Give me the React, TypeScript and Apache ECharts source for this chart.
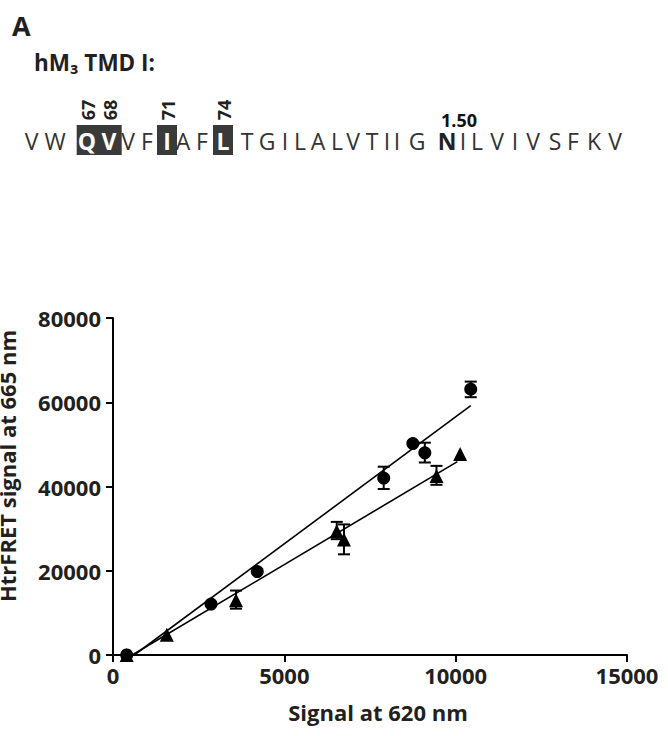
import React, { useEffect, useRef } from "react";
import * as echarts from "echarts";

// ---- data ----
const circleX = [400, 2860, 4210, 7900, 8750, 9100, 10440];
const circleY = [0, 12100, 19800, 42000, 50200, 48000, 63100];
const circleErrLo = [null, null, null, 39400, null, 45700, 61200];
const circleErrHi = [null, null, null, 44700, null, 50400, 64900];

const triX = [400, 1570, 3590, 6530, 6740, 9440, 10130];
const triY = [0, 4800, 13000, 29400, 27400, 42500, 47700];
const triErrLo = [null, null, 11000, 27500, 23900, 40400, null];
const triErrHi = [null, null, 15300, 31600, 31000, 44900, null];

const circleFitX = [620, 10440];
const circleFitY = [0, 59200];
const triFitX = [560, 10050];
const triFitY = [0, 45900];

const xTicks = [0, 5000, 10000, 15000];
const yTicks = [0, 20000, 40000, 60000, 80000];

const seqLetters = ["V","W","Q","V","V","F","I","A","F","L","T","G","I","L","A","L","V","T","I","I","G","N","I","L","V","I","V","S","F","K","V"];
const highlighted = [2, 3, 6, 9];
const residueLabels = ["67", "68", "71", "74"];
const bwIndex = 21;
const bwLabel = "1.50";

const xName = "Signal at 620 nm";
const yName = "HtrFRET signal at 665 nm";
const panelLabel = "A";
const constructName = "hM₃ TMD I:";

// ---- layout ----
const letterX = [31.7, 55, 87, 109, 128, 147, 167, 183, 202, 223, 247, 267, 285, 300, 318, 337, 353, 372, 387, 397, 417, 447, 463, 477, 497, 515, 533, 555, 573, 594, 615];
const FONT = "'Open Sans', 'Noto Sans', sans-serif";
const TXT = "#231f20";

function pairs(xs: number[], ys: (number | null)[]) {
  return xs.map((x, i) => [x, ys[i]]);
}
function errData(xs: number[], lo: (number | null)[], hi: (number | null)[]) {
  const out: number[][] = [];
  xs.forEach((x, i) => {
    if (lo[i] != null && hi[i] != null) out.push([x, lo[i] as number, hi[i] as number]);
  });
  return out;
}

function renderErr(params: any, api: any) {
  const x = api.value(0);
  const lo = api.coord([x, api.value(1)]);
  const hi = api.coord([x, api.value(2)]);
  const w = 6;
  const st = { stroke: "#000", lineWidth: 2 };
  return {
    type: "group",
    children: [
      { type: "line", shape: { x1: lo[0], y1: lo[1], x2: hi[0], y2: hi[1] }, style: st },
      { type: "line", shape: { x1: lo[0] - w, y1: lo[1], x2: lo[0] + w, y2: lo[1] }, style: st },
      { type: "line", shape: { x1: hi[0] - w, y1: hi[1], x2: hi[0] + w, y2: hi[1] }, style: st },
    ],
  };
}

export default function App() {
  const ref = useRef<HTMLDivElement>(null);
  useEffect(() => {
    if (!ref.current) return;
    const chart = echarts.init(ref.current, null, { renderer: "svg" });

    const graphics: any[] = [];
    graphics.push({
      type: "text", x: 12, y: 25,
      style: { text: panelLabel, font: `bold 27px ${FONT}`, fill: TXT, align: "left", verticalAlign: "middle" },
    });
    graphics.push({
      type: "text", x: 34, y: 62,
      style: { text: constructName, font: `bold 22.5px ${FONT}`, fill: TXT, align: "left", verticalAlign: "middle" },
    });
    // highlight boxes
    const boxes = [[76.7, 121.7], [157, 177], [213, 233]];
    boxes.forEach(([a, b]) => {
      graphics.push({ type: "rect", shape: { x: a, y: 125, width: b - a, height: 30 }, style: { fill: "#3a3a3a" } });
    });
    seqLetters.forEach((L, i) => {
      const hl = highlighted.includes(i);
      const bold = hl || i === bwIndex;
      graphics.push({
        type: "text", x: letterX[i], y: 141,
        style: {
          text: L,
          font: `${bold ? "bold " : ""}23px ${FONT}`,
          fill: hl ? "#fff" : i === bwIndex ? "#222" : "#333",
          align: "center", verticalAlign: "middle",
        },
      });
    });
    highlighted.forEach((idx, k) => {
      graphics.push({
        type: "text", x: letterX[idx] + 1, y: 110, rotation: Math.PI / 2,
        style: { text: residueLabels[k], font: `bold 18px ${FONT}`, fill: TXT, align: "center", verticalAlign: "middle" },
      });
    });
    graphics.push({
      type: "text", x: letterX[bwIndex] + 12, y: 120,
      style: { text: bwLabel, font: `bold 18px ${FONT}`, fill: "#111", align: "center", verticalAlign: "middle" },
    });
    graphics.push({
      type: "text", x: 7, y: 466, rotation: Math.PI / 2,
      style: { text: yName, font: `bold 22px ${FONT}`, fill: TXT, align: "center", verticalAlign: "middle" },
    });
    graphics.push({
      type: "text", x: 378, y: 712,
      style: { text: xName, font: `bold 22px ${FONT}`, fill: TXT, align: "center", verticalAlign: "middle" },
    });

    const axisCommon = {
      axisLine: { show: true, lineStyle: { color: "#000", width: 2 } },
      axisTick: { show: true, length: 7, lineStyle: { color: "#000", width: 2 } },
      splitLine: { show: false },
    };
    const fmt = (v: number) => String(v);

    chart.setOption({
      animation: false,
      backgroundColor: "#fff",
      grid: { left: 113, right: 41, top: 318, bottom: 81, containLabel: false },
      xAxis: {
        type: "value", min: xTicks[0], max: xTicks[xTicks.length - 1], interval: xTicks[1] - xTicks[0],
        ...axisCommon,
        axisLabel: { margin: 9, formatter: fmt, fontFamily: FONT, fontWeight: "bold", fontSize: 22, color: TXT },
      },
      yAxis: {
        type: "value", min: yTicks[0], max: yTicks[yTicks.length - 1], interval: yTicks[1] - yTicks[0],
        ...axisCommon,
        axisLabel: { margin: 12, formatter: fmt, fontFamily: FONT, fontWeight: "bold", fontSize: 22, color: TXT },
      },
      graphic: graphics,
      series: [
        {
          type: "line", data: pairs(circleFitX, circleFitY), symbol: "none",
          lineStyle: { color: "#000", width: 1.6 }, z: 2,
        },
        {
          type: "line", data: pairs(triFitX, triFitY), symbol: "none",
          lineStyle: { color: "#000", width: 1.6 }, z: 2,
        },
        { type: "custom", renderItem: renderErr, data: errData(circleX, circleErrLo, circleErrHi), encode: { x: 0, y: [1, 2] }, z: 3 },
        { type: "custom", renderItem: renderErr, data: errData(triX, triErrLo, triErrHi), encode: { x: 0, y: [1, 2] }, z: 3 },
        {
          type: "scatter", data: pairs(circleX, circleY), symbol: "circle", symbolSize: 13,
          itemStyle: { color: "#000", opacity: 1 }, z: 4,
        },
        {
          type: "scatter", data: pairs(triX, triY), symbol: "triangle", symbolSize: 14,
          itemStyle: { color: "#000", opacity: 1 }, z: 4,
        },
      ],
    });
    return () => chart.dispose();
  }, []);
  return (
    <div
      ref={ref}
      style={{ position: "fixed", left: 0, top: 0, width: 668, height: 736, background: "#fff" }}
    />
  );
}
